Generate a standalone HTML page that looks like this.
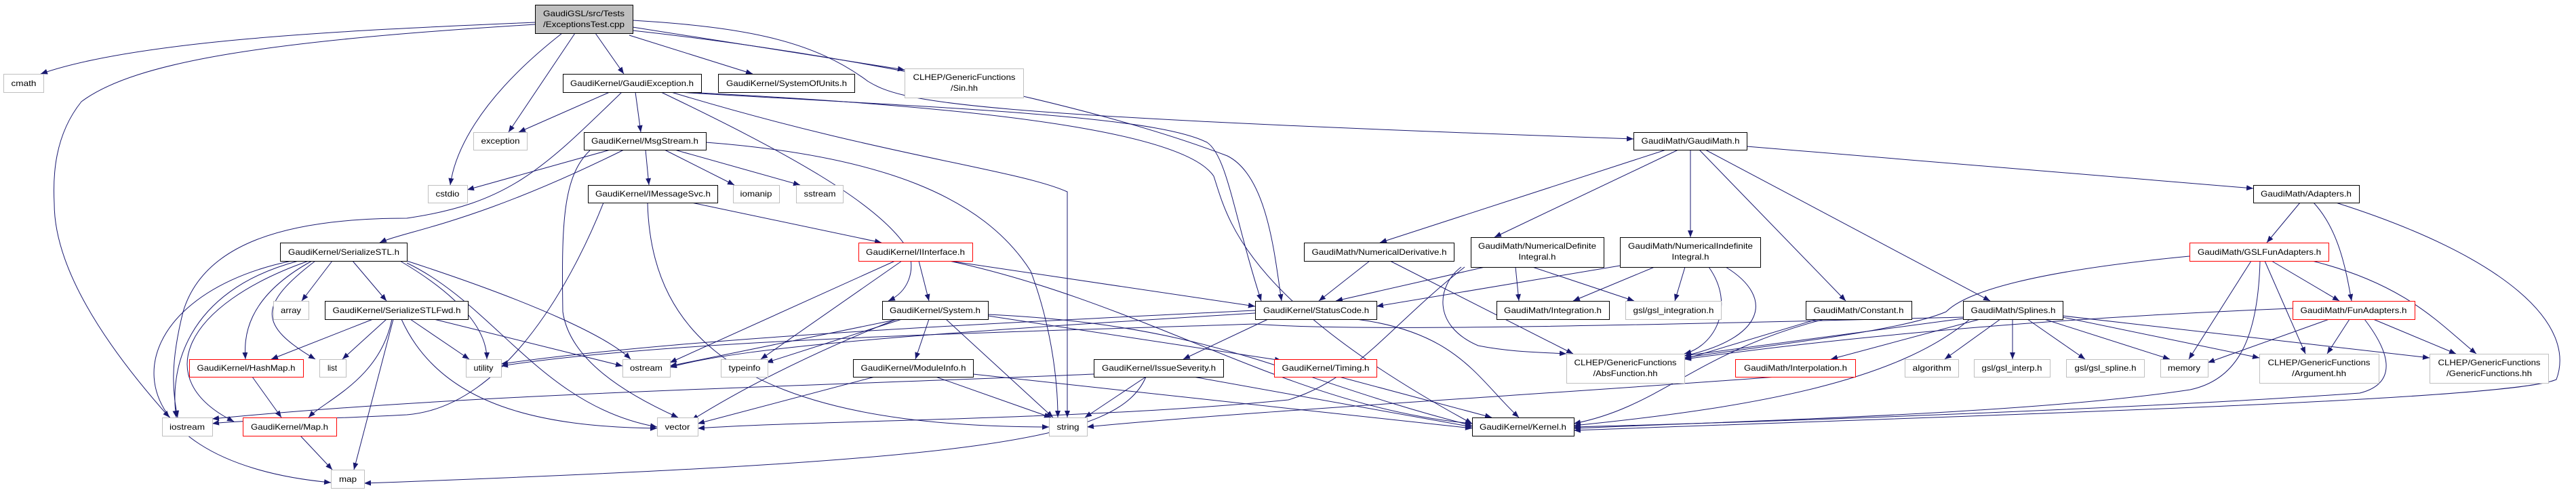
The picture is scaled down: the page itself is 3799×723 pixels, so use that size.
<!DOCTYPE html>
<html><head><meta charset="utf-8"><style>
html,body{margin:0;padding:0;background:#fff;}
svg{display:block;}
text{font-family:"Liberation Sans",sans-serif;font-size:12px;fill:#000;}
</style></head><body>
<svg width="3799" height="723" viewBox="0 0 3799 723" xmlns="http://www.w3.org/2000/svg">
<defs><marker id="a" markerUnits="userSpaceOnUse" markerWidth="10" markerHeight="8" refX="10" refY="4" orient="auto"><path d="M0,0 L10,4 L0,8 z" fill="#191970"/></marker></defs>
<g fill="none" stroke="#191970" stroke-width="1" marker-end="url(#a)">
<path d="M789,33 C500,45 200,60 60,109"/>
<path d="M789,36 C400,60 200,90 120,150 C80,200 78,260 80,300 C80,420 200,560 250,616"/>
<path d="M848,49 L750,195"/>
<path d="M829,49 C700,150 670,230 664,273"/>
<path d="M878,49 L920,109"/>
<path d="M928,52 L1110,109"/>
<path d="M933,40 L1334,103"/>
<path d="M933,30 C1100,40 1200,60 1280,120 C1330,150 1400,170 2409,205"/>
<path d="M933,45 C1250,80 1600,150 1810,230 C1870,260 1880,380 1890,444"/>
<path d="M899,136 L765,195"/>
<path d="M937,136 L945,195"/>
<path d="M917,136 C800,250 750,300 600,322 C420,322 300,360 270,460 C250,540 255,580 262,616"/>
<path d="M990,136 C1300,230 1500,250 1574,283 L1574,616"/>
<path d="M975,136 C1150,220 1300,300 1340,370 C1350,400 1340,430 1310,444"/>
<path d="M1000,136 C1400,160 1700,170 1780,210 C1810,230 1820,320 1860,444"/>
<path d="M1010,136 C1500,160 1750,200 1790,260 C1810,320 1830,440 2171,625"/>
<path d="M900,221 L689,280"/>
<path d="M920,221 C700,330 600,340 560,358"/>
<path d="M952,221 L957,273"/>
<path d="M980,221 L1083,273"/>
<path d="M995,221 L1180,273"/>
<path d="M1041,210 C1300,230 1450,290 1520,400 C1550,480 1560,560 1560,616"/>
<path d="M870,222 C830,260 828,330 830,460 C840,530 920,580 1000,616"/>
<path d="M1020,299 L1300,358"/>
<path d="M955,299 C960,500 1100,630 1547,630"/>
<path d="M890,299 C850,400 750,600 600,612 C450,620 350,620 313,625"/>
<path d="M490,385 L445,444"/>
<path d="M520,385 L570,444"/>
<path d="M460,385 C360,440 360,500 362,530"/>
<path d="M465,385 C380,450 380,480 465,530"/>
<path d="M590,385 C700,450 718,500 718,530"/>
<path d="M600,385 C800,450 900,500 930,530"/>
<path d="M440,385 C270,430 250,550 260,616"/>
<path d="M455,385 C270,450 220,560 345,622"/>
<path d="M430,385 C160,440 140,680 488,712"/>
<path d="M600,388 C730,450 800,600 969,630"/>
<path d="M550,471 L400,530"/>
<path d="M570,471 L505,530"/>
<path d="M578,471 C560,560 480,590 455,616"/>
<path d="M580,471 L522,693"/>
<path d="M605,471 L692,530"/>
<path d="M640,471 L918,540"/>
<path d="M592,471 C650,600 800,630 969,632"/>
<path d="M372,556 L415,616"/>
<path d="M443,643 L490,693"/>
<path d="M1690,556 C1650,650 1450,680 537,713"/>
<path d="M1613,552 C1200,570 700,580 313,618"/>
<path d="M1320,385 L988,535"/>
<path d="M1330,385 L1122,530"/>
<path d="M1355,385 L1370,444"/>
<path d="M1400,385 L1851,452"/>
<path d="M1400,385 C1700,450 1900,600 2171,625"/>
<path d="M1370,471 L1350,530"/>
<path d="M1395,471 L1553,616"/>
<path d="M1330,471 L1130,535"/>
<path d="M1325,471 L988,540"/>
<path d="M1322,471 C1200,520 1100,570 1020,620"/>
<path d="M1457,466 L1890,532"/>
<path d="M1457,464 C1800,480 1900,560 2171,628"/>
<path d="M1290,556 L1029,625"/>
<path d="M1380,556 L1550,616"/>
<path d="M1435,552 L2171,632"/>
<path d="M1690,556 L1600,616"/>
<path d="M1760,556 L2171,630"/>
<path d="M1975,556 L2200,616"/>
<path d="M1870,471 L1745,530"/>
<path d="M2000,471 C2150,490 2180,560 2240,616"/>
<path d="M1851,458 C1400,480 1000,500 739,537"/>
<path d="M1851,462 C1400,490 1100,510 988,542"/>
<path d="M2457,221 L2035,358"/>
<path d="M2475,221 L2204,350"/>
<path d="M2493,221 L2493,350"/>
<path d="M2506,221 L2722,444"/>
<path d="M2515,221 L2935,444"/>
<path d="M2576,216 L3323,278"/>
<path d="M2020,385 L1945,444"/>
<path d="M2050,385 L2320,522"/>
<path d="M2190,394 L1970,444"/>
<path d="M2235,394 L2240,444"/>
<path d="M2260,394 L2410,444"/>
<path d="M2155,394 C2120,420 2110,480 2180,510 C2230,520 2280,520 2310,522"/>
<path d="M2160,394 C2050,480 2000,560 1900,590 C1600,620 1200,620 1029,632"/>
<path d="M2389,392 L2030,452"/>
<path d="M2440,394 L2320,444"/>
<path d="M2485,394 L2470,444"/>
<path d="M2520,394 C2560,450 2530,510 2484,522"/>
<path d="M2545,394 C2620,440 2600,500 2484,525"/>
<path d="M2680,471 L2484,530"/>
<path d="M2690,471 C2500,520 2450,600 2321,625"/>
<path d="M2950,471 L2868,530"/>
<path d="M2968,471 L2968,530"/>
<path d="M2990,471 L3075,530"/>
<path d="M3015,471 L3200,530"/>
<path d="M3042,468 L3332,528"/>
<path d="M3042,466 L3583,528"/>
<path d="M2920,471 L2700,530"/>
<path d="M2895,470 L2484,525"/>
<path d="M2905,471 C2800,560 2600,600 2321,628"/>
<path d="M2895,468 C2400,480 2000,490 1851,478 C1500,490 1000,500 739,540"/>
<path d="M2620,556 C2300,580 1800,610 1603,630"/>
<path d="M3392,299 L3343,358"/>
<path d="M3412,299 C3450,340 3460,400 3468,444"/>
<path d="M3445,299 C3700,380 3800,480 3770,560 C3700,590 3000,610 2321,635"/>
<path d="M3229,378 C3000,400 2900,430 2870,460 C2800,490 2600,510 2484,528"/>
<path d="M3320,385 L3228,530"/>
<path d="M3333,385 C3330,500 3300,560 3230,575 C3000,610 2600,620 2321,632"/>
<path d="M3340,385 L3400,522"/>
<path d="M3350,385 L3450,444"/>
<path d="M3410,385 C3550,420 3600,480 3652,522"/>
<path d="M3435,471 L3256,535"/>
<path d="M3465,471 L3432,522"/>
<path d="M3500,471 L3622,522"/>
<path d="M3487,471 C3540,540 3520,570 3480,580 C3200,600 2700,620 2321,630"/>
<path d="M3381,455 C3000,470 2700,500 2484,530"/>
</g>
<g stroke-width="1">
<rect x="789.5" y="7.5" width="144" height="42" fill="#bfbfbf" stroke="#000"/>
<text x="861" y="24" text-anchor="middle" textLength="120" lengthAdjust="spacingAndGlyphs">GaudiGSL/src/Tests</text>
<text x="861" y="40" text-anchor="middle" textLength="120" lengthAdjust="spacingAndGlyphs">/ExceptionsTest.cpp</text>

<rect x="5.5" y="109.5" width="59" height="27" fill="#fff" stroke="#bfbfbf"/>
<text x="35" y="127" text-anchor="middle" textLength="37" lengthAdjust="spacingAndGlyphs">cmath</text>
<rect x="830.5" y="109.5" width="204" height="27" fill="#fff" stroke="#000"/>
<text x="932" y="127" text-anchor="middle" textLength="182" lengthAdjust="spacingAndGlyphs">GaudiKernel/GaudiException.h</text>
<rect x="1059.5" y="109.5" width="201" height="27" fill="#fff" stroke="#000"/>
<text x="1160" y="127" text-anchor="middle" textLength="178" lengthAdjust="spacingAndGlyphs">GaudiKernel/SystemOfUnits.h</text>
<rect x="1334.5" y="101.5" width="175" height="43" fill="#fff" stroke="#bfbfbf"/>
<text x="1422" y="118" text-anchor="middle" textLength="151" lengthAdjust="spacingAndGlyphs">CLHEP/GenericFunctions</text>
<text x="1422" y="134" text-anchor="middle" textLength="40" lengthAdjust="spacingAndGlyphs">/Sin.hh</text>

<rect x="698.5" y="195.5" width="79" height="26" fill="#fff" stroke="#bfbfbf"/>
<text x="738" y="212" text-anchor="middle" textLength="57" lengthAdjust="spacingAndGlyphs">exception</text>
<rect x="861.5" y="195.5" width="180" height="26" fill="#fff" stroke="#000"/>
<text x="951" y="212" text-anchor="middle" textLength="158" lengthAdjust="spacingAndGlyphs">GaudiKernel/MsgStream.h</text>
<rect x="2409.5" y="195.5" width="167" height="26" fill="#fff" stroke="#000"/>
<text x="2493" y="212" text-anchor="middle" textLength="145" lengthAdjust="spacingAndGlyphs">GaudiMath/GaudiMath.h</text>

<rect x="631.5" y="273.5" width="58" height="26" fill="#fff" stroke="#bfbfbf"/>
<text x="660" y="290" text-anchor="middle" textLength="35" lengthAdjust="spacingAndGlyphs">cstdio</text>
<rect x="867.5" y="273.5" width="191" height="26" fill="#fff" stroke="#000"/>
<text x="963" y="290" text-anchor="middle" textLength="170" lengthAdjust="spacingAndGlyphs">GaudiKernel/IMessageSvc.h</text>
<rect x="1081.5" y="273.5" width="68" height="26" fill="#fff" stroke="#bfbfbf"/>
<text x="1115" y="290" text-anchor="middle" textLength="47" lengthAdjust="spacingAndGlyphs">iomanip</text>
<rect x="1174.5" y="273.5" width="69" height="26" fill="#fff" stroke="#bfbfbf"/>
<text x="1209" y="290" text-anchor="middle" textLength="47" lengthAdjust="spacingAndGlyphs">sstream</text>
<rect x="3323.5" y="273.5" width="156" height="26" fill="#fff" stroke="#000"/>
<text x="3401" y="290" text-anchor="middle" textLength="134" lengthAdjust="spacingAndGlyphs">GaudiMath/Adapters.h</text>

<rect x="413.5" y="358.5" width="187" height="27" fill="#fff" stroke="#000"/>
<text x="507" y="376" text-anchor="middle" textLength="164" lengthAdjust="spacingAndGlyphs">GaudiKernel/SerializeSTL.h</text>
<rect x="1266.5" y="358.5" width="168" height="27" fill="#fff" stroke="#ff0000"/>
<text x="1350" y="376" text-anchor="middle" textLength="146" lengthAdjust="spacingAndGlyphs">GaudiKernel/IInterface.h</text>
<rect x="1923.5" y="358.5" width="221" height="27" fill="#fff" stroke="#000"/>
<text x="2034" y="376" text-anchor="middle" textLength="199" lengthAdjust="spacingAndGlyphs">GaudiMath/NumericalDerivative.h</text>
<rect x="2169.5" y="350.5" width="196" height="44" fill="#fff" stroke="#000"/>
<text x="2267" y="367" text-anchor="middle" textLength="174" lengthAdjust="spacingAndGlyphs">GaudiMath/NumericalDefinite</text>
<text x="2267" y="383" text-anchor="middle" textLength="55" lengthAdjust="spacingAndGlyphs">Integral.h</text>
<rect x="2389.5" y="350.5" width="207" height="44" fill="#fff" stroke="#000"/>
<text x="2493" y="367" text-anchor="middle" textLength="184" lengthAdjust="spacingAndGlyphs">GaudiMath/NumericalIndefinite</text>
<text x="2493" y="383" text-anchor="middle" textLength="55" lengthAdjust="spacingAndGlyphs">Integral.h</text>
<rect x="3229.5" y="358.5" width="205" height="27" fill="#fff" stroke="#ff0000"/>
<text x="3332" y="376" text-anchor="middle" textLength="182" lengthAdjust="spacingAndGlyphs">GaudiMath/GSLFunAdapters.h</text>

<rect x="403.5" y="444.5" width="52" height="27" fill="#fff" stroke="#bfbfbf"/>
<text x="429" y="462" text-anchor="middle" textLength="30" lengthAdjust="spacingAndGlyphs">array</text>
<rect x="479.5" y="444.5" width="211" height="27" fill="#fff" stroke="#000"/>
<text x="585" y="462" text-anchor="middle" textLength="189" lengthAdjust="spacingAndGlyphs">GaudiKernel/SerializeSTLFwd.h</text>
<rect x="1301.5" y="444.5" width="156" height="27" fill="#fff" stroke="#000"/>
<text x="1379" y="462" text-anchor="middle" textLength="134" lengthAdjust="spacingAndGlyphs">GaudiKernel/System.h</text>
<rect x="1851.5" y="444.5" width="179" height="27" fill="#fff" stroke="#000"/>
<text x="1941" y="462" text-anchor="middle" textLength="156" lengthAdjust="spacingAndGlyphs">GaudiKernel/StatusCode.h</text>
<rect x="2207.5" y="444.5" width="166" height="27" fill="#fff" stroke="#000"/>
<text x="2290" y="462" text-anchor="middle" textLength="144" lengthAdjust="spacingAndGlyphs">GaudiMath/Integration.h</text>
<rect x="2397.5" y="444.5" width="141" height="27" fill="#fff" stroke="#bfbfbf"/>
<text x="2468" y="462" text-anchor="middle" textLength="119" lengthAdjust="spacingAndGlyphs">gsl/gsl_integration.h</text>
<rect x="2663.5" y="444.5" width="156" height="27" fill="#fff" stroke="#000"/>
<text x="2741" y="462" text-anchor="middle" textLength="133" lengthAdjust="spacingAndGlyphs">GaudiMath/Constant.h</text>
<rect x="2895.5" y="444.5" width="147" height="27" fill="#fff" stroke="#000"/>
<text x="2969" y="462" text-anchor="middle" textLength="125" lengthAdjust="spacingAndGlyphs">GaudiMath/Splines.h</text>
<rect x="3381.5" y="444.5" width="180" height="27" fill="#fff" stroke="#ff0000"/>
<text x="3471" y="462" text-anchor="middle" textLength="157" lengthAdjust="spacingAndGlyphs">GaudiMath/FunAdapters.h</text>

<rect x="279.5" y="530.5" width="168" height="26" fill="#fff" stroke="#ff0000"/>
<text x="363" y="547" text-anchor="middle" textLength="145" lengthAdjust="spacingAndGlyphs">GaudiKernel/HashMap.h</text>
<rect x="471.5" y="530.5" width="39" height="26" fill="#fff" stroke="#bfbfbf"/>
<text x="490" y="547" text-anchor="middle" textLength="14" lengthAdjust="spacingAndGlyphs">list</text>
<rect x="687.5" y="530.5" width="52" height="26" fill="#fff" stroke="#bfbfbf"/>
<text x="713" y="547" text-anchor="middle" textLength="29" lengthAdjust="spacingAndGlyphs">utility</text>
<rect x="918.5" y="530.5" width="70" height="26" fill="#fff" stroke="#bfbfbf"/>
<text x="953" y="547" text-anchor="middle" textLength="48" lengthAdjust="spacingAndGlyphs">ostream</text>
<rect x="1063.5" y="530.5" width="69" height="26" fill="#fff" stroke="#bfbfbf"/>
<text x="1098" y="547" text-anchor="middle" textLength="47" lengthAdjust="spacingAndGlyphs">typeinfo</text>
<rect x="1258.5" y="530.5" width="177" height="26" fill="#fff" stroke="#000"/>
<text x="1347" y="547" text-anchor="middle" textLength="155" lengthAdjust="spacingAndGlyphs">GaudiKernel/ModuleInfo.h</text>
<rect x="1613.5" y="530.5" width="191" height="26" fill="#fff" stroke="#000"/>
<text x="1709" y="547" text-anchor="middle" textLength="168" lengthAdjust="spacingAndGlyphs">GaudiKernel/IssueSeverity.h</text>
<rect x="1879.5" y="530.5" width="151" height="26" fill="#fff" stroke="#ff0000"/>
<text x="1955" y="547" text-anchor="middle" textLength="129" lengthAdjust="spacingAndGlyphs">GaudiKernel/Timing.h</text>
<rect x="2310.5" y="522.5" width="174" height="43" fill="#fff" stroke="#bfbfbf"/>
<text x="2397" y="539" text-anchor="middle" textLength="151" lengthAdjust="spacingAndGlyphs">CLHEP/GenericFunctions</text>
<text x="2397" y="555" text-anchor="middle" textLength="95" lengthAdjust="spacingAndGlyphs">/AbsFunction.hh</text>
<rect x="2559.5" y="530.5" width="177" height="26" fill="#fff" stroke="#ff0000"/>
<text x="2648" y="547" text-anchor="middle" textLength="152" lengthAdjust="spacingAndGlyphs">GaudiMath/Interpolation.h</text>
<rect x="2809.5" y="530.5" width="79" height="26" fill="#fff" stroke="#bfbfbf"/>
<text x="2849" y="547" text-anchor="middle" textLength="57" lengthAdjust="spacingAndGlyphs">algorithm</text>
<rect x="2911.5" y="530.5" width="112" height="26" fill="#fff" stroke="#bfbfbf"/>
<text x="2967" y="547" text-anchor="middle" textLength="89" lengthAdjust="spacingAndGlyphs">gsl/gsl_interp.h</text>
<rect x="3047.5" y="530.5" width="115" height="26" fill="#fff" stroke="#bfbfbf"/>
<text x="3105" y="547" text-anchor="middle" textLength="91" lengthAdjust="spacingAndGlyphs">gsl/gsl_spline.h</text>
<rect x="3186.5" y="530.5" width="70" height="26" fill="#fff" stroke="#bfbfbf"/>
<text x="3221" y="547" text-anchor="middle" textLength="48" lengthAdjust="spacingAndGlyphs">memory</text>
<rect x="3332.5" y="522.5" width="176" height="43" fill="#fff" stroke="#bfbfbf"/>
<text x="3420" y="539" text-anchor="middle" textLength="151" lengthAdjust="spacingAndGlyphs">CLHEP/GenericFunctions</text>
<text x="3420" y="555" text-anchor="middle" textLength="80" lengthAdjust="spacingAndGlyphs">/Argument.hh</text>
<rect x="3583.5" y="522.5" width="175" height="43" fill="#fff" stroke="#bfbfbf"/>
<text x="3671" y="539" text-anchor="middle" textLength="151" lengthAdjust="spacingAndGlyphs">CLHEP/GenericFunctions</text>
<text x="3671" y="555" text-anchor="middle" textLength="126" lengthAdjust="spacingAndGlyphs">/GenericFunctions.hh</text>

<rect x="239.5" y="616.5" width="74" height="27" fill="#fff" stroke="#bfbfbf"/>
<text x="276" y="634" text-anchor="middle" textLength="52" lengthAdjust="spacingAndGlyphs">iostream</text>
<rect x="358.5" y="616.5" width="138" height="27" fill="#fff" stroke="#ff0000"/>
<text x="427" y="634" text-anchor="middle" textLength="114" lengthAdjust="spacingAndGlyphs">GaudiKernel/Map.h</text>
<rect x="969.5" y="616.5" width="60" height="27" fill="#fff" stroke="#bfbfbf"/>
<text x="999" y="634" text-anchor="middle" textLength="37" lengthAdjust="spacingAndGlyphs">vector</text>
<rect x="1547.5" y="616.5" width="56" height="27" fill="#fff" stroke="#bfbfbf"/>
<text x="1575" y="634" text-anchor="middle" textLength="33" lengthAdjust="spacingAndGlyphs">string</text>
<rect x="2171.5" y="616.5" width="150" height="27" fill="#fff" stroke="#000"/>
<text x="2246" y="634" text-anchor="middle" textLength="128" lengthAdjust="spacingAndGlyphs">GaudiKernel/Kernel.h</text>

<rect x="488.5" y="693.5" width="49" height="27" fill="#fff" stroke="#bfbfbf"/>
<text x="513" y="711" text-anchor="middle" textLength="26" lengthAdjust="spacingAndGlyphs">map</text>
</g>
</svg>
</body></html>
